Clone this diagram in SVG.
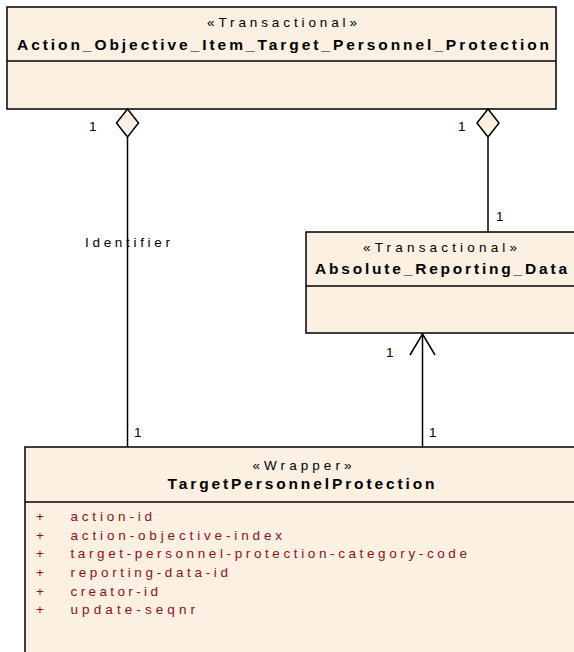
<svg xmlns="http://www.w3.org/2000/svg" width="574" height="652" viewBox="0 0 574 652">
<style>
.box{fill:#FBF0E2;stroke:#000;stroke-width:1.5}
.div{stroke:#000;stroke-width:1.5}
.st{font-family:"Liberation Sans",Arial,sans-serif;font-size:13.5px;fill:#000;text-anchor:middle}
.nm{font-family:"Liberation Sans",Arial,sans-serif;font-size:15.5px;font-weight:bold;fill:#000;text-anchor:middle}
.at{font-family:"Liberation Sans",Arial,sans-serif;font-size:13.5px;fill:#8E1212}
.lb{font-family:"Liberation Sans",Arial,sans-serif;font-size:13.5px;fill:#000}
.ln{stroke:#000;stroke-width:1.5;fill:none}
.dia{fill:#FBF0E2;stroke:#000;stroke-width:1.5}
</style>
<rect width="574" height="652" fill="#fff"/>
<g id="node-action-objective">
<rect class="box" x="7" y="7" width="549" height="102"/>
<line class="div" x1="7" y1="61" x2="556" y2="61"/>
<text class="st" x="282" y="27" textLength="150" lengthAdjust="spacing">«Transactional»</text>
<text class="nm" x="283" y="49.5" textLength="532" lengthAdjust="spacing">Action_Objective_Item_Target_Personnel_Protection</text>
</g>
<g id="node-absolute-reporting-data">
<rect class="box" x="306" y="232" width="272" height="101"/>
<line class="div" x1="306" y1="286" x2="578" y2="286"/>
<text class="st" x="440" y="252" textLength="154" lengthAdjust="spacing">«Transactional»</text>
<text class="nm" x="441" y="273.5" textLength="252" lengthAdjust="spacing">Absolute_Reporting_Data</text>
</g>
<g id="node-target-personnel-protection">
<rect class="box" x="25" y="447" width="555" height="210"/>
<line class="div" x1="25" y1="502" x2="580" y2="502"/>
<text class="st" x="302" y="470" textLength="99" lengthAdjust="spacing">«Wrapper»</text>
<text class="nm" x="301" y="489" textLength="267" lengthAdjust="spacing">TargetPersonnelProtection</text>
<g class="at">
<text x="36" y="521">+</text><text x="70.5" y="521" textLength="81.5" lengthAdjust="spacing">action-id</text>
<text x="36" y="539.5">+</text><text x="70.5" y="539.5" textLength="211.5" lengthAdjust="spacing">action-objective-index</text>
<text x="36" y="558">+</text><text x="70.5" y="558" textLength="396.5" lengthAdjust="spacing">target-personnel-protection-category-code</text>
<text x="36" y="576.8">+</text><text x="70.5" y="576.8" textLength="157.5" lengthAdjust="spacing">reporting-data-id</text>
<text x="36" y="595.5">+</text><text x="70.5" y="595.5" textLength="87.5" lengthAdjust="spacing">creator-id</text>
<text x="36" y="614">+</text><text x="70.5" y="614" textLength="124.5" lengthAdjust="spacing">update-seqnr</text>
</g>
</g>
<g id="connectors">
<line class="ln" x1="127.5" y1="137" x2="127.5" y2="447"/>
<polygon class="dia" points="127.5,109 138.5,123 127.5,137 116.5,123"/>
<line class="ln" x1="488" y1="137" x2="488" y2="232"/>
<polygon class="dia" points="488,109 499,123 488,137 477,123"/>
<line class="ln" x1="422.5" y1="334" x2="422.5" y2="447"/>
<polyline class="ln" points="410,355 422.5,334 435,355"/>
<text class="lb" x="89" y="130.5">1</text>
<text class="lb" x="458" y="130.5">1</text>
<text class="lb" x="496" y="220.5">1</text>
<text class="lb" x="386" y="356.5">1</text>
<text class="lb" x="134" y="437">1</text>
<text class="lb" x="429" y="437">1</text>
<text class="lb" x="85" y="247" textLength="85" lengthAdjust="spacing">Identifier</text>
</g>
</svg>
